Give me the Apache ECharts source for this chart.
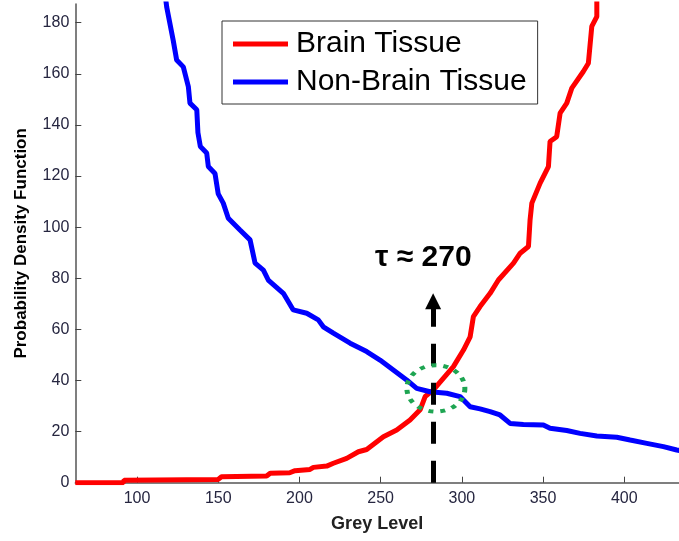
<!DOCTYPE html>
<html>
<head>
<meta charset="utf-8">
<script src="https://cdn.jsdelivr.net/npm/echarts@6/dist/echarts.min.js"></script>
<style>
html, body {margin:0; padding:0; background:#fff;}
#main {width:679px; height:541px;}
</style>
</head>
<body>
<div id="main"></div>
<script>
//刻度
var xTicks = [100, 150, 200, 250, 300, 350, 400];
var yTicks = [0, 20, 40, 60, 80, 100, 120, 140, 160, 180];

//Brain Tissue [grey level, pdf]
var brainData = [
	[62, 0], [91.6, 0], [92, 1.0], [150, 1.3], [152, 2.3], [179.8, 2.6], [182, 3.7],
	[194, 3.9], [197.3, 4.7], [206.5, 5.2], [208.6, 6], [216.8, 6.5], [220.9, 7.6],
	[229.1, 9.5], [236.3, 12.1], [241.4, 13], [251.7, 18], [259.9, 20.6], [268.1, 24.5],
	[274.3, 28.5], [277.4, 33.7], [282.5, 36.3], [288.7, 40.9], [294.8, 45.4], [301, 51.9],
	[305.1, 57.1], [307.1, 65], [311.2, 68.9], [317.4, 74.1], [322.5, 79.3], [331.8, 85.9],
	[335.9, 89.8], [341, 92.4], [342, 102.8], [343.1, 109.4], [348.2, 117.2], [353.3, 123.7],
	[354.3, 133.5], [358.4, 135.4], [360.5, 144.6], [364.6, 148.5], [367.7, 154.4],
	[374.8, 160.9], [377.9, 164.1], [380, 178.5], [383.1, 182.4], [383.1, 190]
];

//Non-Brain Tissue
var nonBrainData = [
	[117.5, 190], [118.3, 186], [122.3, 173], [124.4, 165.4], [128.5, 162.7], [131.6, 155],
	[132.6, 148.5], [136.8, 145.9], [137.5, 137], [139, 131.5], [142.9, 129], [143.9, 123.7],
	[148, 121], [150, 113], [153.1, 109.4], [156.2, 103.5], [163.4, 98.9], [169.6, 95],
	[172.7, 85.9], [177.8, 83.2], [180.8, 79.3], [190.1, 74.1], [196.2, 67.6], [204.5, 66.3],
	[211.6, 63.7], [214.7, 61], [220.9, 58.5], [231.2, 54.6], [241.4, 51.3], [249.6, 48],
	[257.8, 44.1], [266, 40.2], [272.2, 36.9], [280.4, 35.6], [290.7, 35], [298.9, 33.7],
	[305.1, 29.7], [311.2, 28.9], [317.4, 27.8], [323.5, 26.5], [329.7, 23.2], [337.9, 22.8],
	[350.2, 22.6], [354.3, 21.3], [364.6, 20.4], [372.8, 19.3], [383.1, 18.3], [395.4, 17.8],
	[403.6, 16.7], [413.9, 15.4], [424.1, 14.1], [432.3, 12.8], [434, 12.6]
];

//标注 (数据坐标)
var threshold = 282.3;
var arrowTop = 71;
var circleCenter = [284, 36.9];
var tauPos = [276.3, 88.2];

var font = '"Liberation Sans", Arial, sans-serif';

var myChart = echarts.init(document.getElementById('main'));

var option = {
	animation: false,
	grid: {left: 75.3, right: 0, top: 4, bottom: 58.3},
	legend: {
		data: ['Brain Tissue', 'Non-Brain Tissue'],
		orient: 'vertical',
		left: 222,
		top: 21,
		icon: 'rect',
		itemWidth: 55,
		itemHeight: 5,
		itemGap: 8,
		padding: [8, 11, 7, 11],
		borderColor: '#333',
		borderWidth: 1,
		backgroundColor: '#fff',
		textStyle: {fontSize: 30, fontFamily: font, color: '#000', padding: [0, 0, 0, 3]}
	},
	xAxis: {
		type: 'value',
		min: 62,
		max: 433.7,
		name: 'Grey Level',
		nameLocation: 'middle',
		nameGap: 32,
		nameTextStyle: {fontSize: 18, fontWeight: 'bold', fontFamily: font, color: '#222'},
		splitLine: {show: false},
		axisLine: {lineStyle: {color: '#555', width: 1.5}},
		axisTick: {inside: true, length: 6, customValues: xTicks, lineStyle: {color: '#444'}},
		axisLabel: {customValues: xTicks, fontSize: 16, fontFamily: font, color: '#262640', margin: 8}
	},
	yAxis: {
		type: 'value',
		min: 0,
		max: 187.3,
		name: 'Probability Density Function',
		nameLocation: 'middle',
		nameGap: 45,
		nameTextStyle: {fontSize: 17, fontWeight: 'bold', fontFamily: font, color: '#000'},
		splitLine: {show: false},
		axisLine: {show: true, lineStyle: {color: '#555', width: 1.5}},
		axisTick: {show: true, inside: true, length: 6, customValues: yTicks, lineStyle: {color: '#444'}},
		axisLabel: {customValues: yTicks, fontSize: 16, fontFamily: font, color: '#262640', margin: 6}
	},
	series: [
		{
			name: 'Brain Tissue',
			type: 'line',
			data: brainData,
			showSymbol: false,
			color: '#ff0000',
			lineStyle: {width: 5, color: '#ff0000'}
		},
		{
			name: 'Non-Brain Tissue',
			type: 'line',
			data: nonBrainData,
			showSymbol: false,
			color: '#0000ff',
			lineStyle: {width: 5, color: '#0000ff'}
		},
		{
			name: 'threshold',
			type: 'line',
			data: [],
			z: 5,
			markLine: {
				silent: true,
				symbol: ['none', 'triangle'],
				symbolSize: [16, 16],
				label: {show: false},
				lineStyle: {color: '#000', width: 5, type: [22, 17]},
				data: [[{coord: [threshold, 0]}, {coord: [threshold, arrowTop]}]]
			}
		}
	]
};
myChart.setOption(option);

//绿色虚线圈和 τ 文字
var c = myChart.convertToPixel({gridIndex: 0}, circleCenter);
var t = myChart.convertToPixel({gridIndex: 0}, tauPos);
myChart.setOption({
	graphic: [
		{
			type: 'circle',
			x: c[0],
			y: c[1],
			scaleY: 0.8,
			z: 10,
			shape: {cx: 0, cy: 0, r: 29},
			style: {fill: 'none', stroke: '#1ea552', lineWidth: 5, lineDash: [5, 7]}
		},
		{
			type: 'text',
			x: t[0],
			y: t[1],
			z: 10,
			style: {text: 'τ ≈ 270', font: 'bold 30px ' + font, fill: '#000', align: 'center', verticalAlign: 'middle'}
		}
	]
});
</script>
</body>
</html>
